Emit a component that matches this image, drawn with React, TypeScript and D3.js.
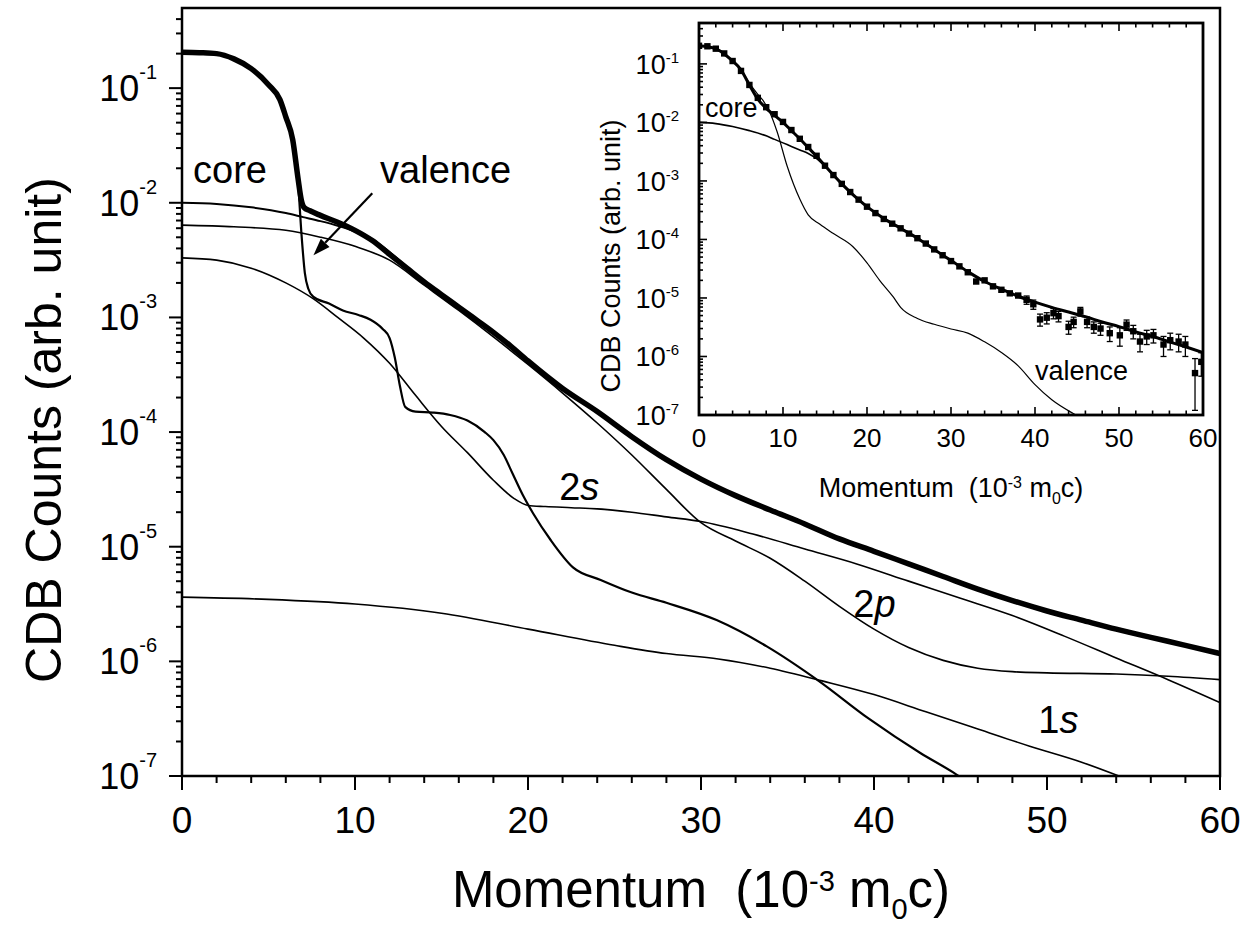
import React from "react";
import * as d3 from "d3";

// ---- main panel: calculated momentum distributions ----
// total (thick, data-like curve)
const totalP = [0, 1, 2, 3, 4, 5, 5.66, 6, 6.4, 6.7, 6.9, 7.05, 7.4, 8, 9, 10, 11, 12, 13, 14, 15, 16, 17, 18, 19, 20, 22, 24, 26, 28, 30, 32, 34, 36, 38, 40, 42, 44, 46, 48, 50, 52, 54, 56, 58, 60];
const totalC = [0.206, 0.204, 0.2, 0.18, 0.148, 0.107, 0.0794, 0.0562, 0.0355, 0.0166, 0.0105, 0.00912, 0.00851, 0.00776, 0.00676, 0.00575, 0.00468, 0.00355, 0.00269, 0.00204, 0.00158, 0.00123, 9.55e-4, 7.41e-4, 5.62e-4, 4.17e-4, 2.4e-4, 1.51e-4, 9.12e-5, 5.75e-5, 3.89e-5, 2.79e-5, 2.09e-5, 1.58e-5, 1.17e-5, 9.12e-6, 7.08e-6, 5.5e-6, 4.27e-6, 3.39e-6, 2.75e-6, 2.29e-6, 1.91e-6, 1.62e-6, 1.38e-6, 1.17e-6];

const coreP = [0, 2, 4, 6, 7, 8, 9, 10, 11, 12, 13, 14];
const coreC = [0.01, 0.00977, 0.00912, 0.00813, 0.0075, 0.00692, 0.00631, 0.00562, 0.00479, 0.00372, 0.00275, 0.00204];

const p2P = [0, 3, 6, 8, 10, 12, 14, 16, 18, 20, 22, 24, 26, 28, 30, 32, 34, 36, 38, 40, 42, 44, 46, 48, 50, 54, 57, 60];
const p2C = [6.38e-3, 6.17e-3, 5.75e-3, 5.01e-3, 4.17e-3, 3.16e-3, 1.91e-3, 1.15e-3, 6.76e-4, 3.89e-4, 2.19e-4, 1.2e-4, 6.31e-5, 3.16e-5, 1.62e-5, 1.12e-5, 7.94e-6, 5.01e-6, 3.02e-6, 1.91e-6, 1.32e-6, 1.02e-6, 8.71e-7, 8.13e-7, 7.94e-7, 7.76e-7, 7.41e-7, 6.92e-7];

const s2P = [0, 2, 4, 6, 7.6, 9, 10.5, 12, 13.5, 15, 16.5, 18, 19.2, 20, 21, 22.5, 24, 26, 28, 30, 33, 36, 39, 42, 45, 48, 51, 54, 57, 60];
const s2C = [3.31e-3, 3.16e-3, 2.69e-3, 2.0e-3, 1.45e-3, 1.0e-3, 6.61e-4, 3.98e-4, 2.09e-4, 1.12e-4, 6.61e-5, 3.8e-5, 2.63e-5, 2.29e-5, 2.24e-5, 2.19e-5, 2.14e-5, 2.0e-5, 1.82e-5, 1.66e-5, 1.29e-5, 9.55e-6, 7.08e-6, 5.01e-6, 3.55e-6, 2.51e-6, 1.66e-6, 1.07e-6, 6.92e-7, 4.37e-7];

const s1P = [0, 5, 10, 15, 20, 25, 28, 31, 34, 37, 40, 43, 46, 49, 52, 54.5];
const s1C = [3.63e-6, 3.47e-6, 3.16e-6, 2.63e-6, 1.91e-6, 1.38e-6, 1.17e-6, 1.05e-6, 8.71e-7, 6.76e-7, 5.13e-7, 3.63e-7, 2.57e-7, 1.82e-7, 1.32e-7, 9.55e-8];

const valP = [0, 2, 3, 4, 5, 5.66, 6, 6.4, 6.7, 6.9, 7.1, 7.3, 7.6, 8.5, 9.3, 10.2, 10.9, 11.6, 12.0, 12.3, 12.6, 12.9, 13.5, 14.5, 15.5, 16.5, 17.5, 18, 18.6, 19.1, 19.7, 20.3, 21.3, 22.6, 24.2, 26, 28, 30.9, 33.8, 36.8, 39.7, 42.7, 44.6, 45.4];
const valC = [0.204, 0.2, 0.18, 0.148, 0.107, 0.0794, 0.0562, 0.0355, 0.0158, 5.5e-3, 2.45e-3, 1.78e-3, 1.51e-3, 1.32e-3, 1.15e-3, 1.05e-3, 9.55e-4, 7.94e-4, 6.61e-4, 4.47e-4, 2.51e-4, 1.66e-4, 1.51e-4, 1.48e-4, 1.41e-4, 1.26e-4, 1.0e-4, 8.51e-5, 6.31e-5, 4.37e-5, 2.82e-5, 1.95e-5, 1.15e-5, 6.61e-6, 5.13e-6, 3.98e-6, 3.24e-6, 2.29e-6, 1.35e-6, 6.76e-7, 3.16e-7, 1.58e-7, 1.07e-7, 8.9e-8];

// ---- inset: experiment vs calculation ----
const expP = [0, 1, 2, 3, 4, 5, 6, 7, 8, 9, 10, 11, 12, 13, 14, 15, 16, 17, 18, 19, 20, 21, 22, 23, 24, 25, 26, 27, 28, 29, 30, 31, 32, 33, 34, 35, 36, 37, 38,
  39, 39.8, 40.6, 41.4, 42.2, 42.8, 44, 44.6, 45.4, 46.2, 47, 47.8, 48.9, 50.1, 50.9, 51.7, 52.5, 53.3, 54.1, 55.3, 56.1, 57.1, 57.9, 59.05, 59.8];
const expC = [0.204, 0.2, 0.182, 0.151, 0.112, 0.0759, 0.0437, 0.0263, 0.0182, 0.0138, 0.0102, 0.00741, 0.00525, 0.0038, 0.00269, 0.00182, 0.00126, 8.91e-4, 6.46e-4, 4.79e-4, 3.63e-4, 2.82e-4, 2.24e-4, 1.86e-4, 1.55e-4, 1.26e-4, 1.05e-4, 8.51e-5, 6.76e-5, 5.37e-5, 4.27e-5, 3.47e-5, 2.75e-5, 1.91e-5, 2.0e-5, 1.58e-5, 1.38e-5, 1.2e-5, 1.1e-5,
  9.3e-6, 7.8e-6, 4.3e-6, 4.6e-6, 5.5e-6, 4.9e-6, 3.2e-6, 3.9e-6, 5.9e-6, 3.9e-6, 3.2e-6, 3.0e-6, 2.5e-6, 2.3e-6, 3.5e-6, 2.7e-6, 1.8e-6, 2.2e-6, 2.3e-6, 1.6e-6, 1.9e-6, 1.8e-6, 1.6e-6, 5.2e-7, 8.1e-7];
const expErr = [0, 0, 0, 0, 0, 0, 0, 0, 0, 0, 0, 0, 0, 0, 0, 0, 0, 0, 0, 0, 0, 0, 0, 0, 0, 0, 0, 0, 0, 0, 0, 0, 0, 0, 0, 0, 0, 0, 0,
  1.5e-6, 1.4e-6, 1.0e-6, 1.0e-6, 1.1e-6, 1.0e-6, 0.8e-6, 0.8e-6, 1.0e-6, 0.8e-6, 0.7e-6, 0.7e-6, 0.7e-6, 0.8e-6, 0.7e-6, 0.7e-6, 0.6e-6, 0.6e-6, 0.6e-6, 0.6e-6, 0.6e-6, 0.6e-6, 0.6e-6, 4.0e-7, 3.5e-7];

const fitP = [0, 2, 3, 4, 5, 6, 7, 8, 9, 10, 11, 12, 13, 14, 15, 16, 17, 18, 19, 20, 22, 24, 26, 28, 30, 32, 34, 36, 38, 40, 42, 44, 46, 48, 50, 52, 54, 56, 58, 60];
const fitC = [0.204, 0.182, 0.148, 0.112, 0.0794, 0.0437, 0.0251, 0.0174, 0.0132, 0.01, 0.00724, 0.00525, 0.00372, 0.00263, 0.00182, 0.00126, 8.91e-4, 6.46e-4, 4.79e-4, 3.63e-4, 2.29e-4, 1.55e-4, 1.05e-4, 6.76e-5, 4.37e-5, 2.82e-5, 1.91e-5, 1.41e-5, 1.07e-5, 8.51e-6, 6.92e-6, 5.75e-6, 4.79e-6, 3.89e-6, 3.24e-6, 2.63e-6, 2.19e-6, 1.78e-6, 1.45e-6, 1.17e-6];

const insCoreP = [0, 2, 4, 6, 8, 9, 10, 11, 12, 13, 14, 15, 16];
const insCoreC = [0.01, 0.00955, 0.00851, 0.00724, 0.00589, 0.00513, 0.00447, 0.00389, 0.00339, 0.00295, 0.0024, 0.00178, 0.00126];

const insValP = [0, 2, 4, 5, 6, 7, 7.6, 8.5, 9.3, 10.5, 12, 13, 14.4, 16, 18.3, 20, 21.5, 23.1, 24, 26, 28, 30, 32, 34, 36, 38, 40, 42, 44.5, 45.5];
const insValC = [0.204, 0.182, 0.112, 0.0794, 0.0468, 0.0302, 0.024, 0.0141, 0.00692, 0.00178, 4.9e-4, 2.63e-4, 1.82e-4, 1.26e-4, 7.59e-5, 3.98e-5, 2.0e-5, 1.05e-5, 6.92e-6, 4.47e-6, 3.55e-6, 2.95e-6, 2.51e-6, 1.78e-6, 1.17e-6, 6.92e-7, 3.31e-7, 1.82e-7, 1.07e-7, 8.91e-8];

const xTickVals = [0, 10, 20, 30, 40, 50, 60];
const decadeExps = [-7, -6, -5, -4, -3, -2, -1];

const FONT = "'Liberation Sans', Arial, Helvetica, sans-serif";

type Pt = [number, number];
const zip = (xs: number[], ys: number[]): Pt[] => xs.map((x, i) => [x, ys[i]]);

export default function App() {
  const main = { left: 182, right: 1220, top: 8, bottom: 776 };
  const ins = { left: 699, right: 1203, top: 23, bottom: 415 };

  const xMain = d3.scaleLinear().domain([0, 60]).range([main.left, main.right]);
  const yMain = d3.scaleLog().domain([1e-7, 0.5]).range([main.bottom, main.top]);
  const xIns = d3.scaleLinear().domain([0, 60]).range([ins.left, ins.right]);
  const yIns = d3.scaleLog().domain([1e-7, 0.5]).range([ins.bottom, ins.top]);

  const lineMain = d3.line<Pt>().x(d => xMain(d[0])).y(d => yMain(d[1])).curve(d3.curveMonotoneX);
  const lineIns = d3.line<Pt>().x(d => xIns(d[0])).y(d => yIns(d[1])).curve(d3.curveMonotoneX);

  const minorX = d3.range(0, 61, 2).filter(v => v % 10 !== 0);
  const yTicksAll = yMain.ticks().filter(v => v < 0.49);
  const isMajor = (v: number) => Math.abs(Math.log10(v) - Math.round(Math.log10(v))) < 1e-6;

  // annotation anchors (data units)
  const arrowFrom: Pt = [11.0, 0.0121];
  const arrowTo: Pt = [7.6, 0.00349];
  const ax0 = xMain(arrowFrom[0]), ay0 = yMain(arrowFrom[1]);
  const ax1 = xMain(arrowTo[0]), ay1 = yMain(arrowTo[1]);
  const ang = Math.atan2(ay1 - ay0, ax1 - ax0);
  const hl = 17, hw = 6;
  const bx = ax1 - hl * Math.cos(ang), by = ay1 - hl * Math.sin(ang);
  const head = `${ax1},${ay1} ${bx + hw * Math.sin(ang)},${by - hw * Math.cos(ang)} ${bx - hw * Math.sin(ang)},${by + hw * Math.cos(ang)}`;

  const expPts = zip(expP, expC);

  return (
    <svg width={1250} height={930} style={{ position: "absolute", left: 0, top: 0, background: "#fff" }} fontFamily={FONT}>
      <defs>
        <clipPath id="clipMain">
          <rect x={main.left} y={main.top} width={main.right - main.left} height={main.bottom - main.top} />
        </clipPath>
        <clipPath id="clipIns">
          <rect x={ins.left} y={ins.top} width={ins.right - ins.left} height={ins.bottom - ins.top} />
        </clipPath>
      </defs>
      <rect x={0} y={0} width={1250} height={930} fill="#fff" />

      {/* ---------- main panel curves ---------- */}
      <g clipPath="url(#clipMain)" fill="none" stroke="#000" strokeLinejoin="round">
        <path d={lineMain(zip(s1P, s1C)) || ""} strokeWidth={1.6} />
        <path d={lineMain(zip(s2P, s2C)) || ""} strokeWidth={1.6} />
        <path d={lineMain(zip(p2P, p2C)) || ""} strokeWidth={1.6} />
        <path d={lineMain(zip(coreP, coreC)) || ""} strokeWidth={2} />
        <path d={lineMain(zip(valP, valC)) || ""} strokeWidth={2.2} />
        <path d={lineMain(zip(totalP, totalC)) || ""} strokeWidth={5.5} />
      </g>

      {/* main frame */}
      <rect x={main.left} y={main.top} width={main.right - main.left} height={main.bottom - main.top} fill="none" stroke="#000" strokeWidth={2.5} />

      {/* main ticks */}
      <g stroke="#000" strokeWidth={2}>
        {xTickVals.map(v => <line key={"xM" + v} x1={xMain(v)} x2={xMain(v)} y1={main.bottom} y2={main.bottom + 14} />)}
        {minorX.map(v => <line key={"xm" + v} x1={xMain(v)} x2={xMain(v)} y1={main.bottom} y2={main.bottom + 7} />)}
        {yTicksAll.map(v => (
          <line key={"y" + v} x1={main.left} x2={main.left - (isMajor(v) ? 13 : 6)} y1={yMain(v)} y2={yMain(v)} />
        ))}
      </g>
      <g fontSize={37} textAnchor="middle">
        {xTickVals.map(v => <text key={"xl" + v} x={xMain(v)} y={833}>{v}</text>)}
      </g>
      <g fontSize={36} textAnchor="end">
        {decadeExps.map(e => (
          <text key={"yl" + e} x={157} y={yMain(Math.pow(10, e)) + 13}>
            10<tspan dy={-22} fontSize={20}>-{Math.abs(e)}</tspan>
          </text>
        ))}
      </g>

      {/* main axis titles */}
      <text x={701} y={907} fontSize={51} textAnchor="middle" style={{ whiteSpace: "pre" }}>
        {"Momentum  (10"}<tspan dy={-16} fontSize={29}>-3</tspan><tspan dy={16}> m</tspan><tspan dy={12} fontSize={29}>0</tspan><tspan dy={-12}>c)</tspan>
      </text>
      <text transform="translate(61,430) rotate(-90)" fontSize={50} textAnchor="middle">CDB Counts (arb. unit)</text>

      {/* main annotations */}
      <g fontSize={38}>
        <text x={xMain(0.64)} y={yMain(0.0148)}>core</text>
        <text x={xMain(11.45)} y={yMain(0.0148)}>valence</text>
        <text x={xMain(21.8)} y={yMain(2.55e-5)}>2<tspan fontStyle="italic">s</tspan></text>
        <text x={xMain(38.8)} y={yMain(2.44e-6)}>2<tspan fontStyle="italic">p</tspan></text>
        <text x={xMain(49.5)} y={yMain(2.37e-7)}>1<tspan fontStyle="italic">s</tspan></text>
      </g>
      <line x1={ax0} y1={ay0} x2={bx} y2={by} stroke="#000" strokeWidth={2.2} />
      <polygon points={head} fill="#000" />

      {/* ---------- inset ---------- */}
      <g clipPath="url(#clipIns)" fill="none" stroke="#000" strokeLinejoin="round">
        <path d={lineIns(zip(insValP, insValC)) || ""} strokeWidth={1.2} />
        <path d={lineIns(zip(insCoreP, insCoreC)) || ""} strokeWidth={1.6} />
        <path d={lineIns(zip(fitP, fitC)) || ""} strokeWidth={3} />
      </g>
      <g clipPath="url(#clipIns)" fill="#000" stroke="#000">
        {expPts.map((d, i) => expErr[i] > 0 ? (
          <g key={"eb" + i} strokeWidth={1.3}>
            <line x1={xIns(d[0])} x2={xIns(d[0])} y1={yIns(d[1] + expErr[i])} y2={yIns(Math.max(d[1] - expErr[i], 1e-8))} />
            <line x1={xIns(d[0]) - 3} x2={xIns(d[0]) + 3} y1={yIns(d[1] + expErr[i])} y2={yIns(d[1] + expErr[i])} />
            <line x1={xIns(d[0]) - 3} x2={xIns(d[0]) + 3} y1={yIns(Math.max(d[1] - expErr[i], 1e-8))} y2={yIns(Math.max(d[1] - expErr[i], 1e-8))} />
          </g>
        ) : null)}
        {expPts.map((d, i) => (
          <rect key={"ep" + i} x={xIns(d[0]) - 3.2} y={yIns(d[1]) - 3.2} width={6.4} height={6.4} stroke="none" />
        ))}
      </g>

      <rect x={ins.left} y={ins.top} width={ins.right - ins.left} height={ins.bottom - ins.top} fill="none" stroke="#000" strokeWidth={2.8} />
      <g stroke="#000" strokeWidth={1.6}>
        {xTickVals.map(v => (
          <g key={"ixM" + v}>
            <line x1={xIns(v)} x2={xIns(v)} y1={ins.bottom} y2={ins.bottom - 8} />
            <line x1={xIns(v)} x2={xIns(v)} y1={ins.top} y2={ins.top + 8} />
          </g>
        ))}
        {minorX.map(v => (
          <g key={"ixm" + v}>
            <line x1={xIns(v)} x2={xIns(v)} y1={ins.bottom} y2={ins.bottom - 4.5} />
            <line x1={xIns(v)} x2={xIns(v)} y1={ins.top} y2={ins.top + 4.5} />
          </g>
        ))}
        {yTicksAll.map(v => (
          <line key={"iy" + v} x1={ins.left} x2={ins.left + (isMajor(v) ? 8 : 4)} y1={yIns(v)} y2={yIns(v)} />
        ))}
      </g>
      <g fontSize={26} textAnchor="middle">
        {xTickVals.map(v => <text key={"ixl" + v} x={xIns(v)} y={447}>{v}</text>)}
      </g>
      <g fontSize={27} textAnchor="end">
        {decadeExps.map(e => (
          <text key={"iyl" + e} x={679} y={yIns(Math.pow(10, e)) + 10}>
            10<tspan dy={-11} fontSize={15}>-{Math.abs(e)}</tspan>
          </text>
        ))}
      </g>
      <text x={951} y={497} fontSize={27} textAnchor="middle" style={{ whiteSpace: "pre" }}>
        {"Momentum  (10"}<tspan dy={-9} fontSize={16}>-3</tspan><tspan dy={9}> m</tspan><tspan dy={7} fontSize={16}>0</tspan><tspan dy={-7}>c)</tspan>
      </text>
      <text transform="translate(620,256) rotate(-90)" fontSize={27} textAnchor="middle">CDB Counts (arb. unit)</text>
      <g fontSize={27}>
        <text x={xIns(0.71)} y={yIns(0.0124)}>core</text>
        <text x={xIns(40)} y={yIns(3.98e-7)}>valence</text>
      </g>
    </svg>
  );
}
